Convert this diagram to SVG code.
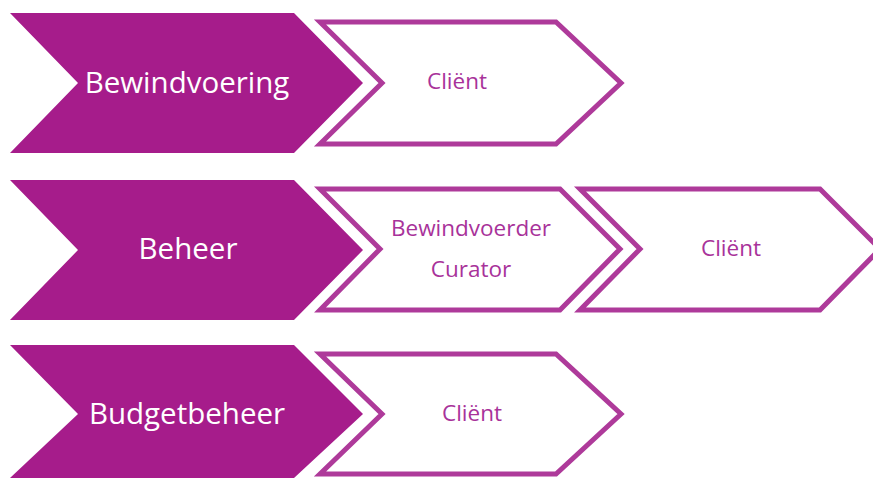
<svg xmlns="http://www.w3.org/2000/svg" width="873" height="479" viewBox="0 0 873 479">
<style>
.f{fill:#a61c8b}
.o{fill:#fff;stroke:#ae3a9a;stroke-width:5;stroke-linejoin:miter}
.tw{fill:#fff;font-family:"Open Sans","Noto Sans",sans-serif;font-size:29.5px;text-anchor:middle;dominant-baseline:central}
.tp{fill:#a8329a;font-family:"Open Sans","Noto Sans",sans-serif;font-size:22.5px;text-anchor:middle;dominant-baseline:central}
</style>
<rect width="873" height="479" fill="#fff"/>
<g id="bewindvoering">
<polygon class="f" points="10,13 294,13 363,83 294,153 10,153 78,83"/>
<text class="tw" x="187" y="81">Bewindvoering</text>
</g>
<g id="client1">
<polygon class="o" points="320,22 556,22 621,83 556,144 320,144 382,83"/>
<text class="tp" x="457" y="80">Cliënt</text>
</g>
<g id="beheer">
<polygon class="f" points="10,180 294,180 363,250 294,320 10,320 78,250"/>
<text class="tw" x="188" y="247">Beheer</text>
</g>
<g id="bewindvoerder">
<polygon class="o" points="320,189 560,189 620,249 560,310 320,310 380,249"/>
<text class="tp" x="471" y="227">Bewindvoerder</text>
<text class="tp" x="471" y="268">Curator</text>
</g>
<g id="client2">
<polygon class="o" points="580,189 820,189 880,249 820,310 580,310 640,249"/>
<text class="tp" x="731" y="247">Cliënt</text>
</g>
<g id="budgetbeheer">
<polygon class="f" points="10,345 294,345 363,414 294,478 10,478 78,414"/>
<text class="tw" x="187" y="412">Budgetbeheer</text>
</g>
<g id="client3">
<polygon class="o" points="320,354 556,354 621,414 556,474 320,474 382,414"/>
<text class="tp" x="472" y="412">Cliënt</text>
</g>
<g id="connectors"></g>
</svg>
